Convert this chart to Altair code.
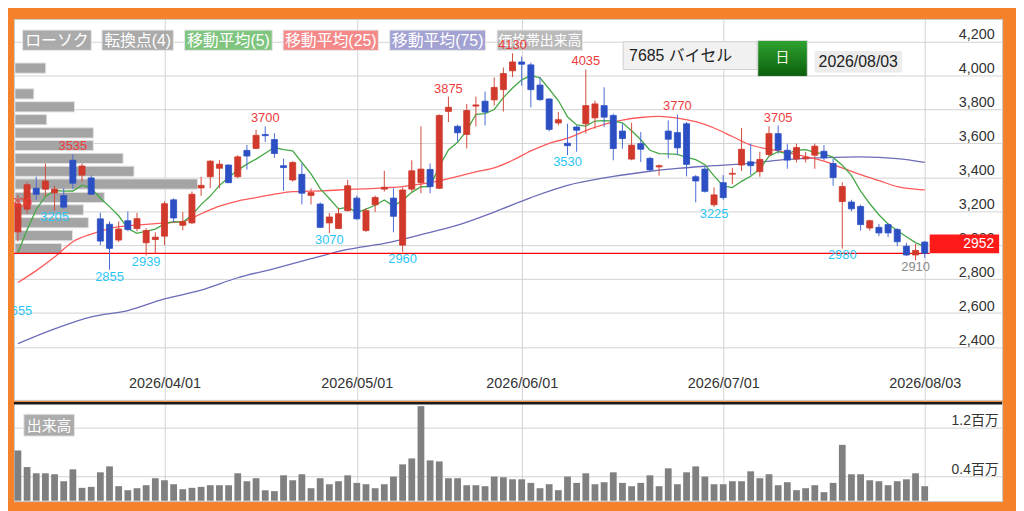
import altair as alt
import pandas as pd

FONT = "Liberation Sans, Noto Sans CJK JP, sans-serif"

# ---------------- data ----------------
date_idx = [16, 37, 55, 77, 99]
date_lbl = ["2026/04/01", "2026/05/01", "2026/06/01", "2026/07/01", "2026/08/03"]
price_ticks = [2400, 2600, 2800, 3000, 3200, 3400, 3600, 3800, 4000, 4200]
vol_ticks = [400000, 1200000]

opens = [3078, 3212, 3335, 3330, 3308, 3292, 3500, 3413, 3396, 3155,
         3123, 3030, 3144, 3098, 3014, 3033, 3053, 3267, 3117, 3131,
         3337, 3403, 3453, 3472, 3403, 3558, 3570, 3652, 3622, 3468,
         3384, 3417, 3293, 3242, 3131, 3098, 3203, 3277, 3086, 3238,
         3330, 3277, 3000, 3330, 3368, 3446, 3335, 3788, 3700, 3652,
         3819, 3848, 3856, 3916, 4027, 4079, 4062, 3943, 3861, 3720,
         3600, 3696, 3715, 3750, 3822, 3764, 3672, 3507, 3598, 3511,
         3461, 3672, 3663, 3715, 3403, 3448, 3238, 3368, 3418, 3472,
         3491, 3433, 3534, 3657, 3559, 3507, 3508, 3530, 3553, 3481,
         3257, 3254, 3228, 3101, 3105, 3121, 3092, 2994, 2942, 3018]
highs = [3296, 3370, 3403, 3481, 3350, 3335, 3535, 3481, 3410, 3192,
         3140, 3140, 3198, 3190, 3100, 3075, 3258, 3275, 3195, 3316,
         3403, 3500, 3501, 3475, 3530, 3590, 3680, 3700, 3660, 3510,
         3495, 3481, 3335, 3252, 3190, 3220, 3385, 3292, 3218, 3292,
         3438, 3335, 3340, 3500, 3700, 3481, 3770, 3875, 3710, 3832,
         3875, 3905, 3988, 4046, 4130, 4110, 4075, 3990, 3865, 3785,
         3715, 3705, 4035, 3851, 3930, 3775, 3715, 3721, 3666, 3520,
         3475, 3735, 3770, 3725, 3413, 3462, 3340, 3413, 3456, 3690,
         3598, 3550, 3700, 3705, 3598, 3598, 3550, 3598, 3590, 3511,
         3370, 3267, 3238, 3150, 3125, 3130, 3101, 3014, 3008, 3025]
lows = [3023, 3185, 3267, 3290, 3205, 3215, 3330, 3374, 3295, 3000,
        2855, 3018, 3082, 3082, 2939, 2950, 3000, 3135, 3088, 3125,
        3290, 3335, 3335, 3365, 3395, 3445, 3565, 3608, 3514, 3320,
        3374, 3240, 3240, 3100, 3070, 3098, 3200, 3150, 3078, 3195,
        3316, 3076, 2960, 3316, 3306, 3306, 3330, 3725, 3610, 3570,
        3700, 3705, 3822, 3787, 3990, 3940, 3812, 3850, 3670, 3705,
        3530, 3550, 3657, 3686, 3696, 3500, 3569, 3500, 3490, 3437,
        3410, 3511, 3530, 3405, 3252, 3310, 3225, 3267, 3360, 3437,
        3413, 3403, 3520, 3540, 3450, 3487, 3487, 3450, 3500, 3350,
        2980, 3199, 3086, 3086, 3053, 3047, 2994, 2936, 2910, 2925]
closes = [3244, 3356, 3300, 3378, 3330, 3224, 3365, 3466, 3300, 3024,
          2981, 3095, 3092, 3156, 3086, 3047, 3244, 3160, 3138, 3300,
          3352, 3495, 3477, 3368, 3520, 3525, 3647, 3645, 3540, 3457,
          3487, 3306, 3310, 3105, 3166, 3185, 3350, 3155, 3203, 3281,
          3341, 3170, 3325, 3438, 3448, 3345, 3764, 3812, 3662, 3793,
          3826, 3784, 3929, 4011, 4079, 4066, 3916, 3857, 3682, 3739,
          3586, 3677, 3822, 3832, 3754, 3569, 3628, 3589, 3565, 3443,
          3468, 3624, 3573, 3476, 3378, 3317, 3296, 3280, 3423, 3565,
          3468, 3505, 3657, 3560, 3501, 3575, 3517, 3583, 3514, 3398,
          3345, 3214, 3121, 3144, 3072, 3072, 3020, 2942, 2969, 2952]
volumes_k = [822, 551, 449, 449, 433, 319, 514, 211, 227, 465,
             562, 238, 173, 205, 254, 368, 335, 270, 189, 211,
             227, 254, 254, 254, 449, 319, 368, 173, 157, 416,
             335, 433, 205, 368, 270, 319, 416, 292, 270, 205,
             270, 395, 595, 692, 1547, 660, 643, 368, 368, 254,
             254, 238, 395, 384, 351, 351, 292, 205, 270, 173,
             395, 292, 449, 270, 303, 465, 292, 238, 292, 416,
             238, 530, 270, 465, 562, 395, 270, 270, 319, 319,
             481, 368, 433, 254, 303, 173, 205, 254, 140, 292,
             914, 433, 433, 335, 319, 254, 319, 351, 449, 238]
ma5 = [2955, 3090, 3210, 3287, 3322, 3318, 3319, 3353, 3337, 3276,
       3227, 3173, 3098, 3070, 3082, 3095, 3125, 3139, 3135, 3178,
       3239, 3289, 3352, 3398, 3442, 3477, 3507, 3541, 3575, 3563,
       3555, 3487, 3420, 3333, 3275, 3214, 3223, 3192, 3212, 3235,
       3266, 3230, 3264, 3311, 3344, 3345, 3464, 3561, 3606, 3675,
       3771, 3775, 3799, 3869, 3926, 3974, 4000, 3986, 3920, 3852,
       3756, 3708, 3701, 3731, 3734, 3731, 3721, 3674, 3621, 3559,
       3539, 3538, 3535, 3517, 3504, 3474, 3408, 3349, 3339, 3376,
       3406, 3448, 3524, 3551, 3538, 3560, 3562, 3547, 3538, 3517,
       3471, 3411, 3318, 3244, 3179, 3125, 3086, 3050, 3015, 2991]
ma25_idx = [0, 2, 4, 6, 8, 10, 12, 14, 16, 18, 20, 22, 24, 26, 28, 30, 32, 34, 36, 38,
            40, 42, 44, 46, 48, 50, 52, 54, 56, 58, 60, 62, 64, 66, 68, 70, 72, 74, 76, 78,
            80, 82, 84, 86, 88, 90, 92, 94, 96, 98, 99]
ma25_val = [2780, 2850, 2930, 3020, 3065, 3098, 3115, 3122, 3131, 3140,
            3185, 3230, 3260, 3280, 3300, 3315, 3318, 3322, 3328, 3332,
            3338, 3345, 3360, 3378, 3405, 3432, 3455, 3500, 3555, 3600,
            3630, 3675, 3712, 3737, 3752, 3758, 3748, 3727, 3690, 3640,
            3590, 3565, 3545, 3522, 3495, 3455, 3415, 3380, 3345, 3330, 3325]
ma75_idx = [0, 4, 8, 12, 16, 20, 24, 28, 32, 36, 40, 44, 48, 52, 56, 60, 64, 68, 72, 76,
            80, 84, 88, 92, 96, 99]
ma75_val = [2420, 2507, 2578, 2615, 2683, 2735, 2808, 2862, 2920, 2975,
            3010, 3062, 3118, 3195, 3280, 3352, 3396, 3428, 3452, 3468,
            3482, 3505, 3515, 3520, 3510, 3488]
tp_idx = [0, 6, 27, 47, 54, 62, 72, 83, 0, 4, 10, 14, 34, 42, 60, 76, 90, 98]
tp_val = [3200, 3535, 3700, 3875, 4130, 4035, 3770, 3705,
          2655, 3205, 2855, 2939, 3070, 2960, 3530, 3225, 2980, 2910]
tp_kind = ["high"] * 8 + ["low"] * 9 + ["last"]
prof_price = [4043, 3967, 3891, 3815, 3739, 3661, 3587, 3511, 3435, 3360, 3281, 3208, 3132, 3056, 2980]
prof_vol = [31, 0, 19, 60, 32, 79, 79, 109, 120, 184, 90, 69, 74, 58, 47]
last_price = 2952
ticker = "7685 バイセル"
period = "日"
as_of = "2026/08/03"
legend_items = ["ローソク", "転換点(4)", "移動平均(5)", "移動平均(25)", "移動平均(75)", "価格帯出来高"]
vol_title = "出来高"

# ---------------- layout / style ----------------
W, HP, HV = 996, 384, 100
X_DOM = [-0.433, 107.45]
Y_DOM = [2088.5, 4332.7]
V_DOM = [-5700, 1617000]
YEN_PER_PX = (Y_DOM[1] - Y_DOM[0]) / HP
HALF = 0.33
VHALF = 0.37
PROF_HALF = 30

RED = "#d0392b"
BLUE = "#2c4fc4"
RED_W = "#d24a3c"
BLUE_W = "#4a6bd8"
GREEN = "#45a845"
PINK = "#ff5a5a"
PURPLE = "#6c6cb8"
GRID = "#d2d2d2"
ORANGE = "#f5822a"

df = pd.DataFrame({"i": list(range(len(closes))), "open": opens, "high": highs,
                   "low": lows, "close": closes, "ma5": ma5,
                   "vol": [v * 1000 for v in volumes_k]})

xs = alt.Scale(domain=X_DOM, nice=False, zero=False)
ys = alt.Scale(domain=Y_DOM, nice=False, zero=False)
vs = alt.Scale(domain=V_DOM, nice=False, zero=False)

label_expr = ""
for i, l in zip(date_idx, date_lbl):
    label_expr += f"datum.value == {i} ? '{l}' : "
label_expr += "''"

xax = alt.Axis(values=date_idx, labelExpr=label_expr, grid=True, gridColor=GRID, ticks=False,
               tickSize=0, domain=False, labelPadding=-16, labelBaseline="middle", labelAlign="center",
               labelFontSize=14.5, labelColor="#333333", labelFont=FONT, labelFlush=False,
               labelOverlap=False, title=None)
yax = alt.Axis(orient="right", values=price_ticks, labelExpr="format(datum.value, ',')", grid=True,
               gridColor=GRID, ticks=False, tickSize=0, domain=False, labelPadding=-8, labelAlign="right",
               labelBaseline="alphabetic", labelOffset=-3, labelFontSize=14.5, labelColor="#333333",
               labelFont=FONT, title=None)


def PY(f):
    return alt.Y(f, type="quantitative", scale=ys, axis=yax)


up = "datum.close >= datum.open"
one = pd.DataFrame({"k": [0]})

# legend buttons
btn_x = [(8.7, 78), (88.7, 160.7), (172, 260.3), (271.3, 367.3), (378.7, 475.3), (487, 573)]
btn_c = ["#a3a3a3", "#a3a3a3", "#72bf72", "#f47c7c", "#9898cf", "#b3b3b3"]
btn_fs = [16, 16, 16, 16, 16, 14]
buttons = []
for (x1, x2), c, fs, txt in zip(btn_x, btn_c, btn_fs, legend_items):
    buttons.append(alt.Chart(one).mark_rect(fill=c, opacity=0.9, stroke="#e4e4e4", strokeWidth=1).encode(
        x=alt.value(x1), x2=alt.value(x2), y=alt.value(11.3), y2=alt.value(31.7)))
    buttons.append(alt.Chart(one).mark_text(text=txt, color="white", fontSize=fs, font=FONT,
                                            align="center", baseline="middle").encode(
        x=alt.value((x1 + x2) / 2), y=alt.value(22)))

# volume profile
dfp = pd.DataFrame({"p": prof_price, "v": prof_vol})
profile = alt.Chart(dfp).transform_filter("datum.v > 0").transform_calculate(
    lo=f"datum.p - {PROF_HALF}", hi=f"datum.p + {PROF_HALF}", z="0"
).mark_rect(fill="#a0a0a0", stroke="#e0e0e0", strokeWidth=1, opacity=0.95).encode(
    x=alt.X("z:Q", scale=alt.Scale(domain=[-1, W - 1], nice=False, zero=False), axis=None),
    x2="v:Q", y=PY("lo:Q"), y2="hi:Q")

df25 = pd.DataFrame({"i": ma25_idx, "v": ma25_val})
df75 = pd.DataFrame({"i": ma75_idx, "v": ma75_val})
ma75_line = alt.Chart(df75).mark_line(color=PURPLE, strokeWidth=1.3, interpolate="monotone", clip=True).encode(
    x=alt.X("i:Q", scale=xs, axis=None), y=PY("v:Q"))
ma25_line = alt.Chart(df25).mark_line(color=PINK, strokeWidth=1.3, interpolate="monotone", clip=True).encode(
    x=alt.X("i:Q", scale=xs, axis=None), y=PY("v:Q"))
ma5_line = alt.Chart(df).mark_line(color=GREEN, strokeWidth=1.3, clip=True).encode(
    x=alt.X("i:Q", scale=xs, axis=None), y=PY("ma5:Q"))

dfl = pd.DataFrame({"p": [last_price]})
price_line = alt.Chart(dfl).mark_rule(color="#ff0000", strokeWidth=1.3).encode(
    x=alt.value(0), x2=alt.value(923), y=PY("p:Q"))

wicks = alt.Chart(df).mark_rule(strokeWidth=1).encode(
    x=alt.X("i:Q", scale=xs, axis=xax), y=PY("low:Q"), y2="high:Q",
    color=alt.condition(up, alt.value(RED_W), alt.value(BLUE_W)))
bodies = alt.Chart(df).transform_calculate(
    x0=f"datum.i - {HALF}", x1=f"datum.i + {HALF}"
).mark_rect(strokeWidth=0.8).encode(
    x=alt.X("x0:Q", scale=xs, axis=None), x2="x1:Q", y=PY("open:Q"), y2="close:Q",
    color=alt.condition(up, alt.value(RED), alt.value(BLUE)),
    stroke=alt.condition(up, alt.value(RED), alt.value(BLUE)))

dft = pd.DataFrame({"i": tp_idx, "v": tp_val, "k": tp_kind})
tp_hi = alt.Chart(dft).transform_filter("datum.k == 'high'").mark_text(
    baseline="bottom", dy=-1, fontSize=13, font=FONT, color="#ee3b3b", clip=True).encode(
    x=alt.X("i:Q", scale=xs, axis=None), y=PY("v:Q"), text=alt.Text("v:N"))
tp_lo = alt.Chart(dft).transform_filter("datum.k == 'low'").mark_text(
    baseline="top", dy=1, fontSize=13, font=FONT, color="#2cc6f6", clip=True).encode(
    x=alt.X("i:Q", scale=xs, axis=None), y=PY("v:Q"), text=alt.Text("v:N"))
tp_last = alt.Chart(dft).transform_filter("datum.k == 'last'").mark_text(
    baseline="top", dy=1, fontSize=13, font=FONT, color="#8a8a8a", clip=True).encode(
    x=alt.X("i:Q", scale=xs, axis=None), y=PY("v:Q"), text=alt.Text("v:N"))

# header widgets
green_grad = alt.Gradient(gradient="linear", x1=0, x2=0, y1=0, y2=1,
                          stops=[alt.GradientStop(color="#2fa32f", offset=0),
                                 alt.GradientStop(color="#0b5e0b", offset=1)])
header = [
    alt.Chart(one).mark_rect(fill="#f1f1f1", stroke="#cfcfcf", strokeWidth=1).encode(
        x=alt.value(614), x2=alt.value(749), y=alt.value(23), y2=alt.value(51)),
    alt.Chart(one).mark_text(text=ticker, color="#222222", fontSize=16, font=FONT, align="left",
                             baseline="middle").encode(x=alt.value(620), y=alt.value(37.5)),
    alt.Chart(one).mark_rect(fill=green_grad, stroke="#dddddd", strokeWidth=1).encode(
        x=alt.value(749.7), x2=alt.value(799.7), y=alt.value(21.7), y2=alt.value(58)),
    alt.Chart(one).mark_text(text=period, color="#f6f6e6", fontSize=14, font=FONT, align="center",
                             baseline="middle").encode(x=alt.value(774.7), y=alt.value(39.5)),
    alt.Chart(one).mark_rect(fill="#ececec").encode(
        x=alt.value(807), x2=alt.value(895), y=alt.value(32.3), y2=alt.value(54)),
    alt.Chart(one).mark_text(text=as_of, color="#222222", fontSize=16, font=FONT, align="center",
                             baseline="middle").encode(x=alt.value(851), y=alt.value(43.5)),
]

price_box = alt.Chart(dfl).transform_calculate(p2=f"datum.p + {19 * YEN_PER_PX}").mark_rect(
    color="#ff1a1a").encode(x=alt.value(923), x2=alt.value(993), y=PY("p:Q"), y2="p2:Q")
price_txt = alt.Chart(dfl).transform_calculate(
    t="format(datum.p, 'd')", pm=f"datum.p + {9.5 * YEN_PER_PX}").mark_text(
    align="right", baseline="middle", color="white", fontSize=14, font=FONT).encode(
    x=alt.value(988), y=PY("pm:Q"), text="t:N")

price_pane = alt.layer(
    *buttons, profile, ma75_line, ma25_line, ma5_line, price_line, wicks, bodies,
    tp_hi, tp_lo, tp_last, *header, price_box, price_txt
).resolve_scale(x="independent").properties(width=W, height=HP)

# ---------------- volume pane ----------------
xax_v = alt.Axis(values=date_idx, labels=False, ticks=False, tickSize=0, domain=False, grid=True,
                 gridColor=GRID, title=None)
yax_v = alt.Axis(orient="right", values=vol_ticks, labelExpr="format(datum.value/1000000, '.1f') + '百万'",
                 grid=True, gridColor=GRID, ticks=False, tickSize=0, domain=False, labelPadding=-4,
                 labelAlign="right", labelBaseline="alphabetic", labelOffset=-3, labelFontSize=14,
                 labelColor="#333333", labelFont=FONT, title=None)
vbars = alt.Chart(df).transform_calculate(
    x0=f"datum.i - {VHALF}", x1=f"datum.i + {VHALF}", z="0"
).mark_rect(color="#808080").encode(
    x=alt.X("x0:Q", scale=xs, axis=xax_v), x2="x1:Q",
    y=alt.Y("z:Q", scale=vs, axis=yax_v), y2="vol:Q")
sep = alt.Chart(one).mark_rule(color="#1a1a1a", strokeWidth=2.5).encode(
    x=alt.value(0), x2=alt.value(W), y=alt.value(1.5))
vbtn = alt.Chart(one).mark_rect(fill="#a8a8a8", opacity=0.95, stroke="#e4e4e4").encode(
    x=alt.value(10), x2=alt.value(61), y=alt.value(12.5), y2=alt.value(34.5))
vtxt = alt.Chart(one).mark_text(text=vol_title, color="white", fontSize=15, font=FONT,
                                align="center", baseline="middle").encode(
    x=alt.value(35.5), y=alt.value(24))
vol_pane = alt.layer(vbars, sep, vbtn, vtxt).properties(width=W, height=HV)

chart = alt.vconcat(price_pane, vol_pane, spacing=0).resolve_scale(
    x="independent", y="independent"
).properties(
    padding={"left": 4, "top": 8, "right": 12, "bottom": 8},
    background=ORANGE,
).configure_view(stroke="#c8c8c8", fill="white")

chart.save("out.html", embed_options={"renderer": "svg", "actions": False})
